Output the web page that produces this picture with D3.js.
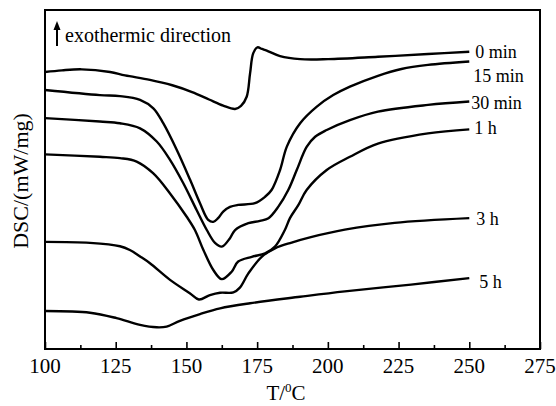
<!DOCTYPE html>
<html>
<head>
<meta charset="utf-8">
<script src="https://cdn.jsdelivr.net/npm/d3@7"></script>
<style>
  body { margin: 0; background: #fff; }
  text { font-family: "Liberation Serif", "DejaVu Serif", serif; fill: #000; }
</style>
</head>
<body>
<div id="chart"></div>
<script>
// DSC curves, T in degC, DSC in arbitrary units (curves are offset, no y scale shown)
const curve0min = [[100,81.7],[106,82.2],[113,82.5],[123,81.7],[128.3,80.7],[137.1,79.4],[145,77.8],[152,75.8],
  [158,73.6],[163,71.8],[167.2,70.8],[169.3,71.7],[171.3,74.4],[172.5,81.3],[173.6,87.2],[175.1,89.0],[176.7,88.5],
  [178.4,88.0],[183.1,86.4],[190.2,85.5],[200.1,85.5],[217.7,86.2],[235.4,87.0],[250,87.7]];
const curve15min = [[100,76.4],[119.4,74.9],[126.5,74.6],[133.6,73.5],[138.3,71.0],[141.8,66.6],[146.6,58.7],
  [151.3,49.9],[154.8,43.0],[157.7,38.1],[159.5,37.5],[161.2,38.6],[163.0,40.5],[165.4,41.9],[168.3,42.5],
  [174.2,43.0],[177.8,44.9],[180.1,46.9],[183.1,52.8],[185.5,59.7],[190.2,66.6],[196.1,71.5],[201.9,74.9],
  [207.8,77.4],[217.7,80.6],[226,82.6],[235.4,83.8],[250,84.8]];
const curve30min = [[100,68.1],[119.4,67.1],[126.5,66.6],[133.6,65.1],[139.5,61.2],[144.2,55.8],[148.9,48.9],
  [153.6,41.0],[157.2,35.1],[160.1,31.3],[162.5,30.2],[165.4,32.7],[167.2,35.1],[171.9,37.1],[176.0,37.8],
  [179.0,38.6],[182.5,42.0],[186.0,46.9],[189.0,52.8],[192.5,59.6],[195.5,62.6],[199.6,64.6],[207.8,67.5],
  [217.7,70.0],[235.4,72.0],[250,73.0]];
const curve1h = [[100,57.4],[119.4,56.7],[126.5,56.3],[132.4,55.3],[138.3,51.8],[144.2,45.9],[150.1,39.0],
  [153.0,35.1],[156.0,29.2],[159.5,23.3],[162.5,20.6],[166.0,22.8],[168.3,25.8],[173.1,27.2],[177.8,28.2],
  [181.3,30.2],[184.8,35.1],[186.6,38.6],[189.6,42.5],[192.5,46.9],[199.6,52.8],[207.8,56.7],[217.7,60.6],
  [235.4,63.6],[250,64.8]];
const curve3h = [[100,31.6],[115.9,31.3],[126.5,30.3],[130.0,29.2],[133.6,27.3],[137.1,25.3],[144.2,20.4],
  [151.3,16.4],[154.4,14.6],[158.3,15.9],[161.9,16.6],[166.6,16.7],[168.9,18.1],[171.9,22.3],[176.6,27.2],
  [181.3,29.7],[187.2,31.4],[194.0,33.0],[206.0,35.2],[223.6,37.2],[250,38.6]];
const curve5h = [[100,11.2],[115.9,10.7],[125.3,9.1],[133.6,7.1],[139.5,6.4],[143.0,6.6],[147.7,8.3],
  [154.8,10.3],[161.9,12.0],[172.5,13.5],[190.2,15.4],[206.0,17.0],[229.4,19.0],[250,20.9]];

const seriesNames = ["0 min", "15 min", "30 min", "1 h", "3 h", "5 h"];
const seriesData = [curve0min, curve15min, curve30min, curve1h, curve3h, curve5h];
const xTicks = [100, 125, 150, 175, 200, 225, 250, 275];

// label offsets from the curve end (px)
const labelOffsets = [[6, 6], [4, 20], [2, 7], [5, 5], [7, 7], [10, 10]];

const width = 556, height = 406;
const margin = { top: 10, right: 16, bottom: 57, left: 45 };

const svg = d3.select("#chart").append("svg")
  .attr("width", width)
  .attr("height", height);

const x = d3.scaleLinear().domain([100, 275]).range([margin.left, width - margin.right]);
const y = d3.scaleLinear().domain([0, 100]).range([height - margin.bottom, margin.top]);

const line = d3.line()
  .x(d => x(d[0]))
  .y(d => y(d[1]))
  .curve(d3.curveCatmullRom.alpha(0.5));

svg.append("g")
  .selectAll("path")
  .data(seriesData)
  .join("path")
  .attr("d", line)
  .attr("fill", "none")
  .attr("stroke", "#000")
  .attr("stroke-width", 2.4)
  .attr("stroke-linejoin", "round");

// curve labels
svg.append("g")
  .selectAll("text")
  .data(seriesData)
  .join("text")
  .attr("x", (d, i) => x(d[d.length - 1][0]) + labelOffsets[i][0])
  .attr("y", (d, i) => y(d[d.length - 1][1]) + labelOffsets[i][1])
  .attr("font-size", 18)
  .text((d, i) => seriesNames[i]);

// bottom axis, ticks pointing inward
const xAxis = d3.axisBottom(x)
  .tickValues(d3.range(100, 275.1, 12.5))
  .tickSize(0)
  .tickFormat("");
const axisG = svg.append("g")
  .attr("transform", `translate(0,${y(0)})`)
  .call(xAxis);
axisG.select(".domain").remove();
axisG.selectAll(".tick line")
  .attr("y2", d => xTicks.includes(d) ? -7 : -4)
  .attr("stroke", "#000")
  .attr("stroke-width", 1.6);

svg.append("g")
  .selectAll("text")
  .data(xTicks)
  .join("text")
  .attr("x", d => x(d))
  .attr("y", y(0) + 24)
  .attr("text-anchor", "middle")
  .attr("font-size", 21)
  .text(d => d);

// frame
svg.append("rect")
  .attr("x", x(100))
  .attr("y", y(100))
  .attr("width", x(275) - x(100))
  .attr("height", y(0) - y(100))
  .attr("fill", "none")
  .attr("stroke", "#000")
  .attr("stroke-width", 2);

// axis titles
const xTitle = svg.append("text")
  .attr("x", 286)
  .attr("y", 400)
  .attr("text-anchor", "middle")
  .attr("font-size", 21);
xTitle.append("tspan").text("T/");
xTitle.append("tspan").attr("font-size", 13).attr("dy", -8).text("0");
xTitle.append("tspan").attr("dy", 8).text("C");

svg.append("text")
  .attr("transform", "rotate(-90)")
  .attr("x", -181)
  .attr("y", 28)
  .attr("text-anchor", "middle")
  .attr("font-size", 22)
  .text("DSC/(mW/mg)");

// exothermic arrow
svg.append("line")
  .attr("x1", 57).attr("x2", 57)
  .attr("y1", 46).attr("y2", 28)
  .attr("stroke", "#000")
  .attr("stroke-width", 2);
svg.append("path")
  .attr("d", "M57,21 L53.5,30 L60.5,30 Z")
  .attr("fill", "#000");
svg.append("text")
  .attr("x", 65)
  .attr("y", 42)
  .attr("font-size", 20)
  .text("exothermic direction");
</script>
</body>
</html>
